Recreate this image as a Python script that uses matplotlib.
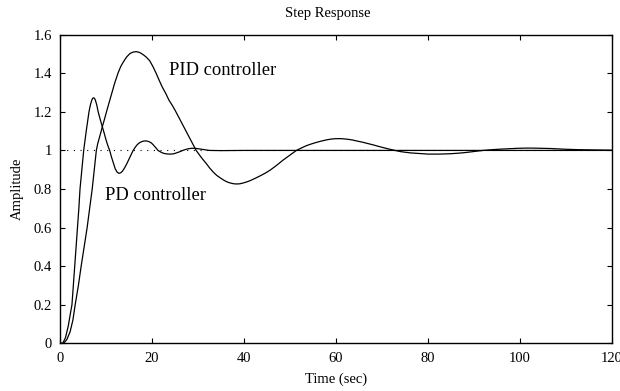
import numpy as np
import matplotlib
matplotlib.use("Agg")
import matplotlib.pyplot as plt

# step responses (time in sec, amplitude)
pd_t = [0, 0.6, 1.2, 1.8, 2.3, 2.6, 2.9, 3.2, 3.5, 3.8, 4.1, 4.35, 4.75, 5.15, 5.7,
        6.3, 6.6, 6.9, 7.1, 7.3, 7.5, 7.7, 8.0, 8.3, 8.75, 9.2, 9.6, 10.0, 10.4, 10.8,
        11.2, 11.6, 12.0, 12.4, 12.8, 13.2, 13.6, 14.0, 14.5, 15.0, 15.5, 15.9,
        16.4, 16.8, 17.3, 17.8, 18.3, 18.8, 19.3, 19.8, 20.2, 20.6, 21.0, 21.3,
        21.8, 22.2, 22.7, 23.2, 23.7, 24.2, 24.8, 25.4, 26.0, 26.7, 27.3, 28.0,
        28.6, 29.3, 30.0, 30.8, 31.6, 32.5, 35, 40, 120]
pd_y = [0, 0.0, 0.03, 0.09, 0.16, 0.2, 0.3, 0.4, 0.5, 0.6, 0.7, 0.8, 0.9, 1.0, 1.1,
        1.2, 1.235, 1.26, 1.27, 1.273, 1.27, 1.26, 1.235, 1.2, 1.16, 1.123, 1.09, 1.055, 1.025, 1.0,
        0.965, 0.935, 0.905, 0.888, 0.881, 0.884, 0.893, 0.908, 0.93, 0.955, 0.98, 1.0,
        1.018, 1.03, 1.04, 1.046, 1.049, 1.049, 1.046, 1.04, 1.031, 1.02, 1.009, 1.0,
        0.993, 0.988, 0.984, 0.982, 0.981, 0.981, 0.983, 0.988, 0.993, 1.0, 1.005, 1.009,
        1.011, 1.011, 1.009, 1.006, 1.003, 1.0, 0.999, 1.0, 1.0]

pid_t = [0, 0.8, 1.5, 2.2, 2.8, 3.3, 4.0, 4.6, 5.25, 5.9, 6.45, 7.0, 7.45, 7.9, 8.2,
         8.55, 8.9, 9.2, 9.65, 10.1, 10.7, 11.3, 11.9, 12.6, 13.2, 13.8, 14.5, 15.2,
         15.9, 16.6, 17.3, 18.0, 18.7, 19.5, 20.2, 20.9, 21.5, 22.2, 23.0, 23.7, 24.5,
         25.2, 26.3, 27.4, 28.5, 29.6, 30.3, 31.0, 31.8, 32.5, 33.3, 34.1, 35.0, 35.8,
         36.5, 37.2, 37.8, 38.4, 39.1, 39.8, 40.5, 41.3, 42.4, 43.5, 44.6, 45.7, 47.1,
         48.5, 50.0, 51.4, 52.5, 53.6, 54.7, 55.8, 56.9, 58, 59, 60, 61.2, 62.5, 63.6,
         64.7, 65.7, 66.7, 68.2, 69.7, 71.2, 72.8, 74.0, 75.2, 76.3, 77.5, 78.8, 80,
         81.2, 82.5, 83.8, 85, 86.8, 88.5, 90.2, 92, 94, 96, 97.8, 99.5, 101.2, 102.8,
         104.6, 106.5, 108.3, 110, 112.5, 115, 117.5, 120]
pid_y = [0, 0, 0.02, 0.06, 0.12, 0.2, 0.3, 0.4, 0.5, 0.6, 0.7, 0.8, 0.9, 1.0, 1.035,
         1.065, 1.095, 1.123, 1.16, 1.2, 1.25, 1.3, 1.35, 1.4, 1.435, 1.46, 1.485, 1.502,
         1.51, 1.512, 1.508, 1.498, 1.485, 1.465, 1.435, 1.4, 1.367, 1.33, 1.295, 1.26, 1.23,
         1.2, 1.15, 1.1, 1.05, 1.0, 0.977, 0.955, 0.932, 0.91, 0.888, 0.87, 0.855, 0.843,
         0.835, 0.83, 0.827, 0.826, 0.827, 0.831, 0.836, 0.843, 0.855, 0.868, 0.882, 0.898, 0.923,
         0.95, 0.976, 1.0, 1.013, 1.025, 1.034, 1.042, 1.049, 1.055, 1.059, 1.061, 1.061, 1.058, 1.054,
         1.048, 1.043, 1.037, 1.028, 1.018, 1.009, 1.0, 0.994, 0.99, 0.987, 0.985, 0.983, 0.981,
         0.981, 0.981, 0.982, 0.983, 0.986, 0.99, 0.995, 1.0, 1.004, 1.007, 1.009, 1.011, 1.012, 1.012,
         1.011, 1.01, 1.008, 1.006, 1.004, 1.003, 1.002, 1.001]

setpoint = 1.0
x_ticks = [0, 20, 40, 60, 80, 100, 120]
y_ticks = [0, 0.2, 0.4, 0.6, 0.8, 1, 1.2, 1.4, 1.6]

plt.rcParams["font.family"] = ["Liberation Serif", "DejaVu Serif"]

fig = plt.figure(figsize=(6.2, 3.91), dpi=100)
ax = fig.add_axes([60 / 620, 1 - 343.3 / 391, 552 / 620, 308.6 / 391])

ax.plot([0, 120], [setpoint, setpoint], color="black", lw=0.8, ls=(0, (1, 5)))
ax.plot(pd_t, pd_y, color="black", lw=0.9)
ax.plot(pid_t, pid_y, color="black", lw=0.9)

ax.text(23.7, 1.39, "PID controller", fontsize=13.3)
ax.text(9.8, 0.743, "PD controller", fontsize=13.3)

ax.set_xlim(0, 120)
ax.set_ylim(0, 1.6)
ax.set_xticks(x_ticks)
ax.set_yticks(y_ticks)
ax.set_yticklabels([f"{v:g}" for v in y_ticks])
ax.tick_params(direction="in", length=3.5, width=0.8, labelsize=10.5, pad=6,
               top=True, right=True)
for s in ax.spines.values():
    s.set_linewidth(1.0)

ax.set_xlabel("Time (sec)", fontsize=10.5, labelpad=6)
ax.set_ylabel("Amplitude", fontsize=10.5, labelpad=7)
fig.text(328 / 620, 1 - 13 / 391, "Step Response", fontsize=10.5, ha="center", va="center")

fig.savefig("out.png", dpi=100)
